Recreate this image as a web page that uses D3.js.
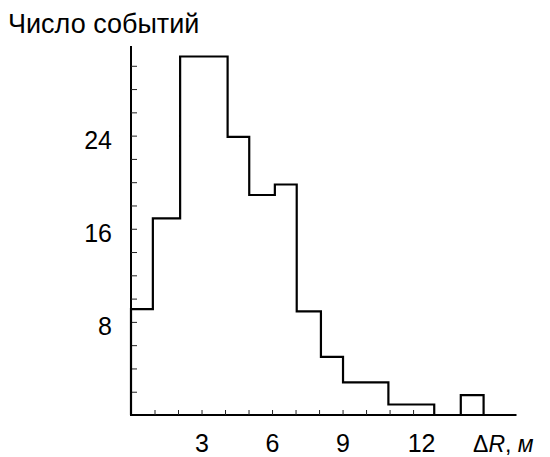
<!DOCTYPE html>
<html>
<head>
<meta charset="utf-8">
<script src="https://cdn.jsdelivr.net/npm/d3@7"></script>
<style>
body{margin:0;background:#fff;}
svg text{font-family:"Liberation Sans",Arial,sans-serif;fill:#000;}
.axis .domain{stroke:#000;stroke-width:2;}
.axis .tick line{stroke:#222;stroke-width:1;}
</style>
</head>
<body>
<div id="chart"></div>
<script>
//bin edges (metres) and event counts
var binEdges=[0,0.93,2.09,4.11,5.03,6.12,7.05,8.08,9.02,10.95,12.9,14.03,15.0];
var counts=[9.1,16.9,30.8,23.9,18.9,19.8,8.9,5.0,2.8,0.9,0,1.7];
var xTicks=[1,2,3,4,5,6,7,8,9,10,11,12];
var xTickLabels=[3,6,9,12];
var yTicks=[2,4,6,8,10,12,14,16,18,20,22,24,26,28,30];
var yTickLabels=[8,16,24];

var width=550,height=457;
var svg=d3.select("#chart").append("svg")
	.attr("width",width)
	.attr("height",height);

var x=d3.scaleLinear().domain([0,16.4]).range([131,516.5]);
var y=d3.scaleLinear().domain([0,31.7]).range([415,46]);

//x axis, ticks point inward
var xAxis=d3.axisBottom(x)
	.tickValues(xTicks)
	.tickSizeInner(-5)
	.tickSizeOuter(0)
	.tickPadding(19)
	.tickFormat(function(d){return xTickLabels.indexOf(d)>=0?d:"";});
var gx=svg.append("g").attr("class","axis")
	.attr("transform","translate(0,"+y(0)+")")
	.call(xAxis);
gx.selectAll("text").attr("font-size",25).attr("font-family",null)
	.attr("dx",function(d){return d==12?8:0;});
gx.select(".domain").attr("d","M"+(x(0)-1)+",0H"+x(16.4));

//y axis
var yAxis=d3.axisLeft(y)
	.tickValues(yTicks)
	.tickSizeInner(-6)
	.tickSizeOuter(0)
	.tickPadding(19)
	.tickFormat(function(d){return yTickLabels.indexOf(d)>=0?d:"";});
var gy=svg.append("g").attr("class","axis")
	.attr("transform","translate("+x(0)+",0)")
	.call(yAxis);
gy.selectAll("text").attr("font-size",25).attr("font-family",null)
	.attr("dy","0.5em");
gy.select(".domain").attr("d","M0,"+y(31.7)+"V"+(y(0)+1));

//histogram outline as one step path
var path=d3.path();
path.moveTo(x(binEdges[0]),y(0));
counts.forEach(function(c,i){
	path.lineTo(x(binEdges[i]),y(c));
	path.lineTo(x(binEdges[i+1]),y(c));
});
path.lineTo(x(binEdges[binEdges.length-1]),y(0));
svg.append("path")
	.attr("d",path.toString())
	.attr("fill","none")
	.attr("stroke","#000")
	.attr("stroke-width",2.2)
	.attr("stroke-linejoin","miter");

//titles
svg.append("text")
	.attr("x",8)
	.attr("y",32.5)
	.attr("font-size",27)
	.text("Число событий");
var xl=svg.append("text")
	.attr("x",473)
	.attr("y",452)
	.attr("font-size",23);
xl.append("tspan").text("\u0394");
xl.append("tspan").attr("font-style","italic").text("R");
xl.append("tspan").text(", ");
xl.append("tspan").attr("font-style","italic").text("м");
</script>
</body>
</html>
